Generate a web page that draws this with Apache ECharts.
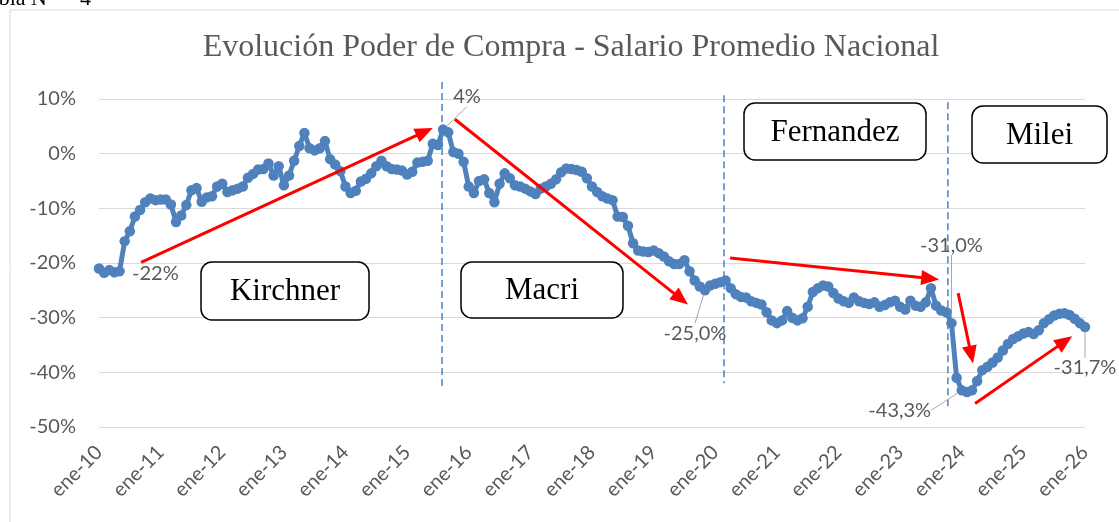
<!DOCTYPE html>
<html><head><meta charset="utf-8">
<script src="https://cdn.jsdelivr.net/npm/echarts@6/dist/echarts.min.js"></script>
<style>html,body{margin:0;padding:0;background:#fff;overflow:hidden}#c{width:1119px;height:522px}</style>
</head><body><div id="c"></div>
<script>
// ---- data ----
const monthNames = ['ene','feb','mar','abr','may','jun','jul','ago','sep','oct','nov','dic'];
const yearsShort = ['10','11','12','13','14','15','16','17','18','19','20','21','22','23','24','25','26'];
const categories = [];
yearsShort.forEach(function (y, yi) {
  monthNames.forEach(function (m, mi) {
    if (yi === yearsShort.length - 1 && mi > 0) return;
    categories.push(m + '-' + y);
  });
});
// Poder de compra, variación % (ene-10 .. ene-26)
const purchasingPower = [
  -21.0,-21.8,-21.3,-21.7,-21.5,-16.0,-14.2,-11.5,-10.3,-8.9,
  -8.2,-8.5,-8.4,-8.4,-9.3,-12.5,-11.3,-9.4,-6.7,-6.3,
  -8.8,-8.0,-7.8,-6.0,-5.5,-7.0,-6.7,-6.4,-6.0,-4.4,
  -3.7,-2.9,-2.8,-1.8,-4.0,-2.3,-5.8,-4.0,-1.3,1.4,
  3.8,1.0,0.6,1.0,2.3,-1.0,-2.0,-3.2,-6.0,-7.2,
  -6.8,-5.1,-4.6,-3.6,-2.3,-1.3,-2.3,-2.8,-2.9,-3.1,
  -3.8,-3.3,-1.6,-1.5,-1.3,1.8,1.6,4.4,3.9,0.3,
  0.0,-1.5,-6.0,-7.2,-5.0,-4.7,-7.2,-8.9,-5.5,-3.6,
  -4.5,-5.8,-6.0,-6.4,-6.9,-7.4,-6.4,-6.0,-5.5,-4.7,
  -3.4,-2.7,-2.8,-3.0,-3.3,-4.5,-6.0,-7.0,-7.8,-8.2,
  -8.5,-11.5,-11.6,-13.2,-16.4,-17.7,-17.9,-18.0,-17.7,-18.2,
  -18.8,-19.7,-20.2,-20.2,-19.5,-21.5,-23.2,-24.3,-25.0,-24.1,
  -23.8,-23.5,-23.2,-24.6,-25.7,-26.2,-26.3,-27.0,-27.3,-27.6,
  -29.0,-30.5,-31.0,-30.5,-28.8,-30.0,-30.5,-30.1,-28.0,-25.3,
  -24.6,-24.1,-24.3,-25.5,-26.5,-27.0,-27.3,-26.3,-27.0,-27.3,
  -27.5,-27.2,-28.0,-27.7,-27.2,-26.9,-28.0,-28.5,-26.9,-27.8,
  -28.0,-27.2,-24.6,-27.8,-28.7,-29.0,-31.0,-41.0,-43.3,-43.6,
  -43.3,-41.6,-39.6,-39.0,-38.2,-37.3,-36.0,-34.8,-33.9,-33.4,
  -32.9,-32.6,-33.0,-32.3,-31.0,-30.3,-29.6,-29.3,-29.2,-29.5,
  -30.2,-31.0,-31.7
];
const labeledIdx = [3, 67, 118, 166, 168, 192];
const labeledText = ['-22%', '4%', '-25,0%', '-31,0%', '-43,3%', '-31,7%'];
const yTickValues = [-50, -40, -30, -20, -10, 0, 10];
const titleText = 'Evolución Poder de Compra - Salario Promedio Nacional';
const periodNames = ['Kirchner', 'Macri', 'Fernandez', 'Milei'];

// ---- annotation geometry (data space: [month index, %]) ----
const periodLines = [[66.8, 13.1, -42.9], [121.7, 10.7, -42.0], [165.3, 9.4, -46.6]];
const trendArrows = [
  [8.2, -19.9, 65.0, 4.7],
  [69.3, 6.3, 114.7, -27.6],
  [122.9, -19.1, 163.6, -23.0],
  [167.3, -25.5, 170.2, -38.4],
  [170.6, -45.7, 189.5, -33.4]
];
// label offsets (px) and boxes (px)
const labelShift = { 3: [41, 1], 67: [24, -33], 118: [-10, 43], 166: [0, -78], 168: [-62, 20], 192: [0, 41] };
const boxes = [[201, 262, 168, 58], [461, 262, 162, 56], [744, 103, 182, 57], [972, 106, 135, 57]];

const seriesData = purchasingPower.map(function (v, i) {
  const k = labeledIdx.indexOf(i);
  if (k < 0) return v;
  return {
    value: v,
    label: { show: true, formatter: labeledText[k] },
    labelLine: { show: k !== 0, lineStyle: { color: '#a6a6a6', width: 1 } }
  };
});

const chart = echarts.init(document.getElementById('c'));
chart.setOption({
  animation: false,
  grid: { left: 99, right: 34, top: 99, bottom: 95, containLabel: false },
  xAxis: [{
    type: 'category', data: categories, boundaryGap: false,
    axisLine: { show: false }, axisTick: { show: false }, splitLine: { show: false },
    axisLabel: { interval: 11, rotate: 45, color: '#595959', fontSize: 20, fontFamily: 'Lato', margin: 22 }
  }, {
    type: 'value', min: 0, max: categories.length - 1, show: false, gridIndex: 0
  }],
  yAxis: {
    type: 'value', min: yTickValues[0], max: yTickValues[yTickValues.length - 1], interval: 10,
    axisLine: { show: false }, axisTick: { show: false },
    splitLine: { lineStyle: { color: '#d9d9d9', width: 1 } },
    axisLabel: { formatter: function (v) { return v + '%'; }, color: '#595959', fontSize: 20, fontFamily: 'Lato', margin: 23 }
  },
  series: [{
    type: 'line', data: seriesData, xAxisIndex: 0,
    symbol: 'circle', symbolSize: 10.5, showAllSymbol: true,
    lineStyle: { width: 5, color: '#4f81bd' },
    itemStyle: { color: '#4f81bd' },
    label: { show: false, position: 'inside', color: '#595959', fontSize: 20, fontFamily: 'Lato' },
    labelLayout: function (p) {
      const o = labelShift[p.dataIndex];
      return o ? { dx: o[0], dy: o[1] } : {};
    },
    emphasis: { disabled: true },
    z: 3
  }]
});

const px = function (i, v) { return chart.convertToPixel({ xAxisIndex: 1, yAxisIndex: 0 }, [i, v]); };
const g = [];
// outer chart frame
g.push({ type: 'rect', shape: { x: 10, y: 10, width: 1130, height: 530 }, style: { fill: 'none', stroke: '#d9d9d9', lineWidth: 1 }, z: 0 });
// caption (cut off above)
g.push({ type: 'text', x: -23, y: -1, style: { text: 'Tabla N°', font: '22px "Liberation Serif"', fill: '#000', verticalAlign: 'middle' }, z: 0 });
g.push({ type: 'text', x: 80, y: -1, style: { text: '4', font: '22px "Liberation Serif"', fill: '#000', verticalAlign: 'middle' }, z: 0 });
// title
g.push({ type: 'text', x: 571, y: 48, style: { text: titleText, font: '32px "Liberation Serif"', fill: '#595959', align: 'center', verticalAlign: 'middle' }, z: 5 });
// period dashed lines
periodLines.forEach(function (l) {
  const a = px(l[0], l[1]), b = px(l[0], l[2]);
  g.push({ type: 'line', shape: { x1: a[0], y1: a[1], x2: b[0], y2: b[1] }, style: { stroke: '#4f81bd', lineWidth: 1.5, lineDash: [7, 4] }, z: 1 });
});
// red arrows
trendArrows.forEach(function (t) {
  const a = px(t[0], t[1]), b = px(t[2], t[3]);
  const dx = b[0] - a[0], dy = b[1] - a[1], len = Math.sqrt(dx * dx + dy * dy);
  const ux = dx / len, uy = dy / len, L = 18, W = 7.5;
  const bx = b[0] - ux * L, by = b[1] - uy * L;
  g.push({ type: 'line', shape: { x1: a[0], y1: a[1], x2: bx + ux * 2, y2: by + uy * 2 }, style: { stroke: '#ff0000', lineWidth: 3 }, z: 20 });
  g.push({ type: 'polygon', shape: { points: [[b[0], b[1]], [bx - uy * W, by + ux * W], [bx + uy * W, by - ux * W]] }, style: { fill: '#ff0000' }, z: 20 });
});
// period boxes
boxes.forEach(function (bx, k) {
  g.push({ type: 'rect', shape: { x: bx[0], y: bx[1], width: bx[2], height: bx[3], r: 11 }, style: { fill: '#fff', stroke: '#000', lineWidth: 1.5 }, z: 20 });
  g.push({ type: 'text', x: bx[0] + bx[2] / 2, y: bx[1] + bx[3] / 2 + 1, style: { text: periodNames[k], font: '31px "Liberation Serif"', fill: '#000', align: 'center', verticalAlign: 'middle' }, z: 21 });
});
chart.setOption({ graphic: { elements: g } });
</script>
</body></html>
